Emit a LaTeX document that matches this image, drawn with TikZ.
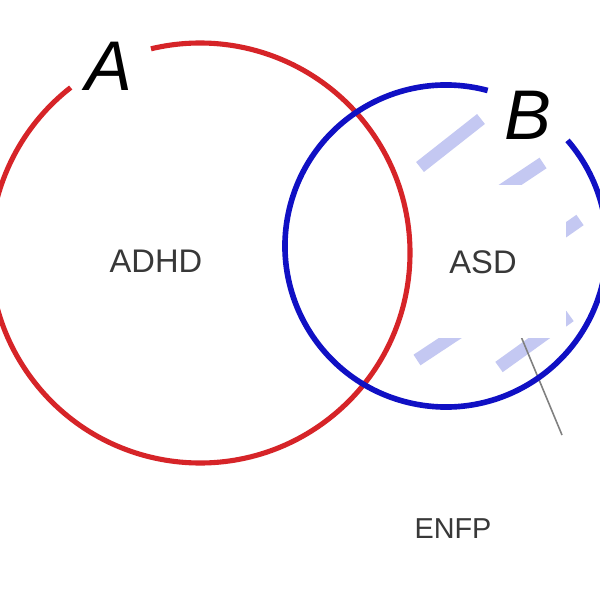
\documentclass[tikz,border=0pt]{standalone}
\usepackage{fontspec}
\newfontfamily\labelfont{Liberation Sans}
\usetikzlibrary{calc,positioning}
\definecolor{ringred}{RGB}{214,36,40}
\definecolor{ringblue}{RGB}{16,16,196}
\definecolor{hatchblue}{RGB}{196,200,242}
\definecolor{labelgray}{RGB}{56,56,56}

\begin{document}
\begin{tikzpicture}[scale=1.0,
  redring/.style={draw=ringred, line width=1.45pt},
  bluering/.style={draw=ringblue, line width=1.6pt},
  hatch/.style={draw=hatchblue, line width=3.6pt},
  setname/.style={font=\labelfont\itshape\fontsize{20}{20}\selectfont, inner sep=0pt},
  setlabel/.style={font=\labelfont\fontsize{9.3}{10}\selectfont, text=labelgray, inner sep=0pt}]
\clip (0,0) rectangle (6,6);
\fill[white] (0,0) rectangle (6,6);
% hatching in B
\draw[hatch] (4.20,4.33) -- (4.81,4.81);
\draw[hatch] (4.95,4.05) -- (5.43,4.37);
\draw[hatch] (5.20,3.38) -- (5.80,3.80);
\draw[hatch] (4.99,2.33) -- (5.70,2.84);
\draw[hatch] (4.17,2.40) -- (4.70,2.75);
\coordinate (lineup) at (5.15,2.78);
\coordinate (linedown) at (5.62,1.65);
\draw[gray, line width=0.45pt] (lineup) -- (linedown);
\fill[white] (4.15,2.62) rectangle (5.66,4.15);
% the two sets
\draw[redring] (2.00,3.47) ++(128:2.10) arc[start angle=128, end angle=463.5, radius=2.10];
\draw[bluering] (4.46,3.54) ++(75:1.61) arc[start angle=75, end angle=401, radius=1.61];
\node[setname] (a) at (1.09,5.34) {A};
\node[setname] (b) at (5.28,4.85) {B};
\node[setlabel] (adhd) at (1.56,3.39) {ADHD};
\node[setlabel] (asd) at (4.83,3.38) {ASD};
\node[setlabel, font=\labelfont\fontsize{8.2}{9}\selectfont] (enfp) at (4.53,0.71) {ENFP};
\end{tikzpicture}
\end{document}
